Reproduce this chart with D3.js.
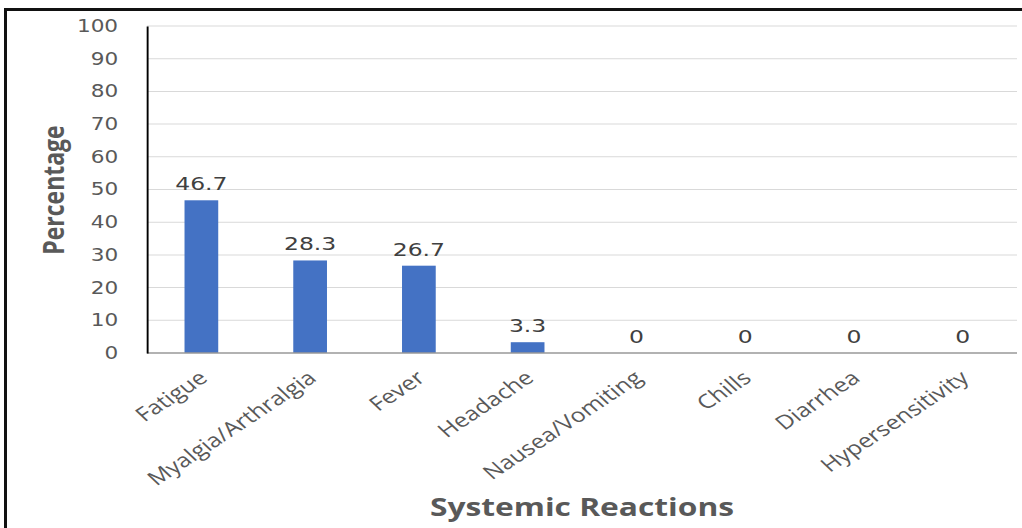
<!DOCTYPE html>
<html>
<head>
<meta charset="utf-8">
<script src="https://cdn.jsdelivr.net/npm/d3@7"></script>
<style>
  body { margin: 0; background: #fff; }
  svg { display: block; }
</style>
</head>
<body>
<svg></svg>
<script>
const categories = ["Fatigue", "Myalgia/Arthralgia", "Fever", "Headache",
  "Nausea/Vomiting", "Chills", "Diarrhea", "Hypersensitivity"]
const percentages = [46.7, 28.3, 26.7, 3.3, 0, 0, 0, 0]
const yTicks = [0, 10, 20, 30, 40, 50, 60, 70, 80, 90, 100]

const width = 1022
const height = 528
// the source picture is stretched sideways, so draw everything in a narrower
// space and scale it back out
const stretch = 1.27

const svg = d3.select('svg')
  .attr('width', width)
  .attr('height', height)

// frame (left + top edge only)
svg.append('path')
  .attr('d', `M5.5,${height} V9.5 H${width}`)
  .attr('fill', 'none')
  .attr('stroke', '#111')
  .attr('stroke-width', 3)

const g = svg.append('g')
  .attr('transform', `scale(${stretch},1)`)

const x = d3.scaleBand()
  .domain(categories)
  .range([147 / stretch, 1017 / stretch])

const y = d3.scaleLinear()
  .domain([0, 100])
  .range([353, 26])

const barW = x.bandwidth() * 0.31

// gridlines
g.append('g')
  .selectAll('line')
  .data(yTicks.filter(d => d > 0))
  .enter().append('line')
    .attr('x1', x.range()[0])
    .attr('x2', x.range()[1])
    .attr('y1', d => y(d))
    .attr('y2', d => y(d))
    .attr('stroke', '#d9d9d9')
    .attr('stroke-width', 1)

// bars
g.append('g')
  .selectAll('rect')
  .data(percentages)
  .enter().append('rect')
    .attr('x', (d, i) => x(categories[i]) + x.bandwidth() / 2 - barW / 2)
    .attr('y', d => y(d))
    .attr('width', barW)
    .attr('height', d => y(0) - y(d))
    .attr('fill', '#4472c4')

// x axis line
g.append('line')
  .attr('x1', x.range()[0])
  .attr('x2', x.range()[1])
  .attr('y1', y(0))
  .attr('y2', y(0))
  .attr('stroke', '#999')
  .attr('stroke-width', 1.5)

// y axis
const yAxis = g.append('g')
  .attr('transform', `translate(${x.range()[0]},0)`)
  .call(d3.axisLeft(y).tickValues(yTicks).tickSize(0).tickPadding(147 / stretch - 93))
yAxis.select('.domain')
  .attr('stroke', '#000')
  .attr('stroke-width', 1.5)
yAxis.selectAll('text')
  .attr('fill', '#595959')
  .style('font-family', 'DejaVu Sans, Verdana, sans-serif')
  .style('font-size', '17px')

// value labels
g.append('g')
  .selectAll('text')
  .data(percentages)
  .enter().append('text')
    .attr('x', (d, i) => x(categories[i]) + x.bandwidth() / 2)
    .attr('y', d => y(d) - 10)
    .attr('text-anchor', 'middle')
    .attr('fill', '#404040')
    .style('font-family', 'DejaVu Sans, Verdana, sans-serif')
    .style('font-size', '18.5px')
    .text(d => d)

// category labels
g.append('g')
  .selectAll('text')
  .data(categories)
  .enter().append('text')
    .attr('transform', d => `translate(${x(d) + x.bandwidth() / 2 + 6},380) rotate(-40)`)
    .attr('text-anchor', 'end')
    .attr('fill', '#595959')
    .style('font-family', 'Open Sans, sans-serif')
    .style('font-size', '19.5px')
    .text(d => d)

// axis titles
g.append('text')
  .attr('transform', `translate(${64 / stretch},190) rotate(-90)`)
  .attr('text-anchor', 'middle')
  .attr('fill', '#595959')
  .style('font-family', 'Open Sans, sans-serif')
  .style('font-weight', 'bold')
  .style('font-size', '23px')
  .text('Percentage')

g.append('text')
  .attr('x', 582 / stretch)
  .attr('y', 516)
  .attr('text-anchor', 'middle')
  .attr('fill', '#595959')
  .style('font-family', 'Open Sans, sans-serif')
  .style('font-weight', 'bold')
  .style('font-size', '25px')
  .text('Systemic Reactions')
</script>
</body>
</html>
